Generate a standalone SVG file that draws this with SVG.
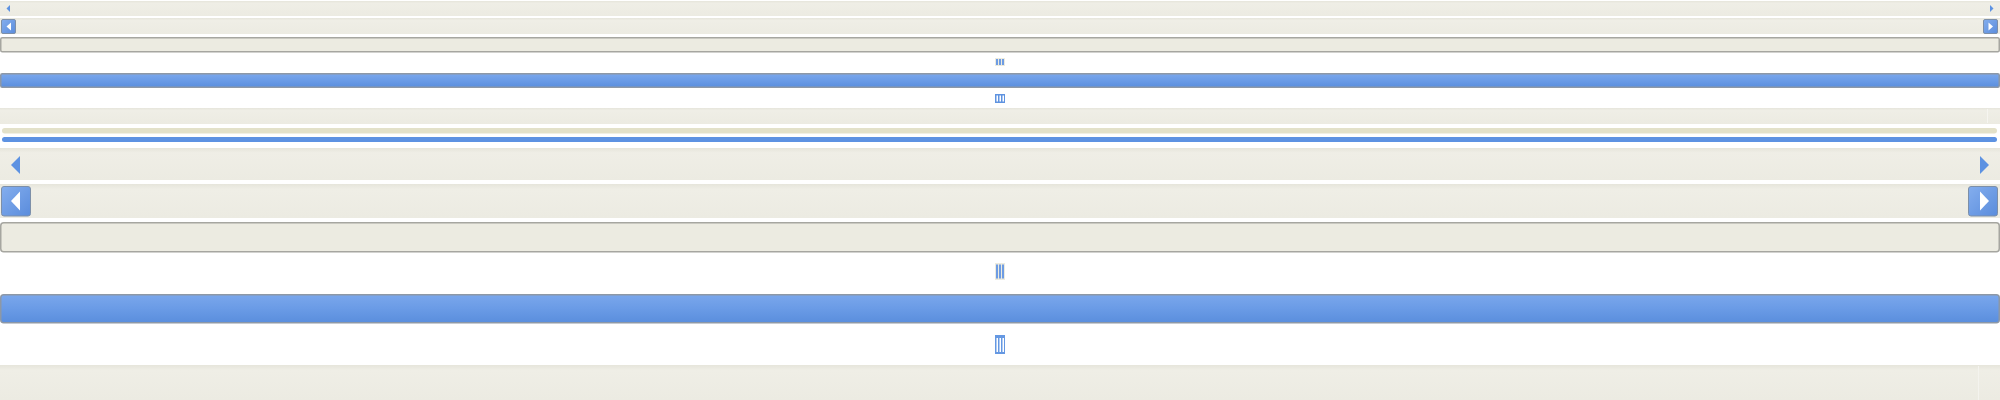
<svg xmlns="http://www.w3.org/2000/svg" width="2000" height="400" viewBox="0 0 2000 400">
<defs>
<linearGradient id="blueV" x1="0" y1="0" x2="0" y2="1">
<stop offset="0" stop-color="#7AA7EC"/>
<stop offset="0.5" stop-color="#6A9BE6"/>
<stop offset="1" stop-color="#5A8EDD"/>
</linearGradient>
<linearGradient id="trackV" x1="0" y1="0" x2="0" y2="1">
<stop offset="0" stop-color="#E6E5DB"/>
<stop offset="0.15" stop-color="#EFEEE6"/>
<stop offset="1" stop-color="#ECEBE2"/>
</linearGradient>
<linearGradient id="btnV" x1="0" y1="0" x2="1" y2="1">
<stop offset="0" stop-color="#84AEEE"/>
<stop offset="1" stop-color="#5A8CDC"/>
</linearGradient>
<style>
.track{fill:url(#trackV)}
.blue{fill:url(#blueV);stroke:#8D98A6;stroke-width:1.5}
.grey{fill:#ECEBE1;stroke:#A6A6A0;stroke-width:1.5}
.btn{fill:url(#btnV);stroke:#7D8FA8;stroke-width:1}
.arrow{fill:#5D92E2}
.warrow{fill:#FFFFFF}
.sep{fill:#FFFFFF}
.lstripe{fill:#6E9CE3}
.wstripe{fill:#FFFFFF}
</style>
</defs>
<rect x="0" y="0" width="2000" height="400" fill="#FFFFFF"/>

<g id="row1-small-arrows">
<rect class="track" x="0" y="1" width="2000" height="15"/>
<polygon class="arrow" points="10,5 10,12 6.5,8.5"/>
<polygon class="arrow" points="1990,5 1990,12 1993.5,8.5"/>
</g>

<g id="row2-small-buttons">
<rect class="track" x="0" y="18" width="2000" height="16"/>
<rect class="btn" x="1.5" y="19.5" width="14" height="14" rx="1.5"/>
<polygon class="warrow" points="11,22.5 11,30.5 6.5,26.5"/>
<rect class="btn" x="1983.5" y="19.5" width="14" height="14" rx="1.5"/>
<polygon class="warrow" points="1988.5,22.5 1988.5,30.5 1993,26.5"/>
</g>

<g id="row3-small-grey">
<rect class="grey" x="0.75" y="37.75" width="1998.5" height="14" rx="1.5"/>
</g>

<g id="grip-small-light">
<rect x="995" y="58" width="10" height="8" fill="#ECEBDF"/>
<rect class="lstripe" x="996" y="59" width="2" height="6"/>
<rect class="lstripe" x="999" y="59" width="2" height="6"/>
<rect class="lstripe" x="1002" y="59" width="2" height="6"/>
</g>

<g id="row4-small-blue">
<rect class="blue" x="0.75" y="73.75" width="1998.5" height="13.5" rx="1.5"/>
</g>

<g id="grip-small-blue">
<rect x="995" y="94" width="10" height="9" fill="#5F93E0"/>
<rect class="wstripe" x="996.5" y="95.5" width="1.5" height="6"/>
<rect class="wstripe" x="999.5" y="95.5" width="1.5" height="6"/>
<rect class="wstripe" x="1002.5" y="95.5" width="1.5" height="6"/>
</g>

<g id="row5-small-track">
<rect class="track" x="0" y="108" width="2000" height="16"/>
<rect x="1987" y="109" width="1" height="14" fill="#F6F5F0"/>
</g>

<g id="row6-yellow-pill">
<rect x="2" y="128" width="1995" height="5.5" rx="2.75" fill="#E3E1C9"/>
</g>

<g id="row7-blue-pill">
<rect x="2" y="137" width="1995" height="5" rx="2.5" fill="#5D92E2"/>
</g>

<g id="row8-large-arrows">
<rect class="track" x="0" y="148" width="2000" height="32"/>
<polygon class="arrow" points="20,156 20,174 11,165"/>
<polygon class="arrow" points="1980,156 1980,174 1989,165"/>
</g>

<g id="row9-large-buttons">
<rect class="track" x="0" y="184" width="2000" height="34"/>
<rect class="btn" x="1.5" y="186.5" width="29" height="29.5" rx="2.5"/>
<polygon class="warrow" points="20,191.5 20,210.5 11,201"/>
<rect class="btn" x="1968.5" y="186.5" width="29" height="29.5" rx="2.5"/>
<polygon class="warrow" points="1980,191.5 1980,210.5 1989,201"/>
</g>

<g id="row10-large-grey">
<rect class="grey" x="0.75" y="222.75" width="1998.5" height="29" rx="3"/>
</g>

<g id="grip-large-light">
<rect x="995" y="263" width="10" height="17" fill="#ECEBDF"/>
<rect class="lstripe" x="996" y="264.5" width="2" height="14"/>
<rect class="lstripe" x="999" y="264.5" width="2" height="14"/>
<rect class="lstripe" x="1002" y="264.5" width="2" height="14"/>
</g>

<g id="row11-large-blue">
<rect class="blue" x="0.75" y="294.75" width="1998.5" height="28" rx="3"/>
</g>

<g id="grip-large-blue">
<rect x="995" y="335" width="10" height="19" fill="#6598E2"/>
<rect class="wstripe" x="996.5" y="338" width="1.5" height="14"/>
<rect class="wstripe" x="999.5" y="338" width="1.5" height="14"/>
<rect class="wstripe" x="1002.5" y="338" width="1.5" height="14"/>
</g>

<g id="row12-large-track">
<rect class="track" x="0" y="365" width="2000" height="35"/>
<rect x="1978" y="366" width="1" height="34" fill="#F4F3EE"/>
</g>

<g id="connectors"></g>
</svg>
